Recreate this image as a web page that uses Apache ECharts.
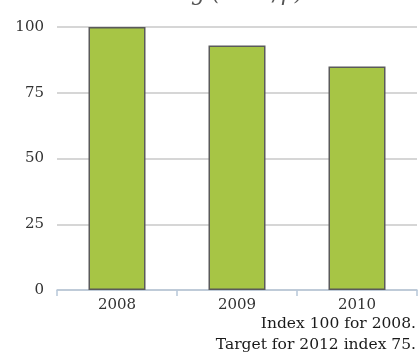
<!DOCTYPE html>
<html>
<head>
<meta charset="utf-8">
<script src="https://cdn.jsdelivr.net/npm/echarts@6/dist/echarts.min.js"></script>
<style>
  html, body { margin: 0; padding: 0; background: #fff; }
  #chart { width: 419px; height: 358px; }
</style>
</head>
<body>
<div id="chart"></div>
<script>
// Yearly index values (2008 = 100)
const years = ['2008', '2009', '2010'];
const indexValues = [100, 93, 85];
const yTicks = [0, 25, 50, 75, 100];
const titleText = 'Heating (tCO\u2082/p)';
const noteLines = ['Index 100 for 2008.', 'Target for 2012 index 75.'];

const serif = '"DejaVu Serif", "Liberation Serif", serif';
const chart = echarts.init(document.getElementById('chart'));

chart.setOption({
  animation: false,
  title: {
    text: titleText,
    left: 'center',
    top: -22,
    textStyle: { fontFamily: serif, fontStyle: 'italic', fontWeight: 'normal', fontSize: 22, color: '#555' }
  },
  graphic: noteLines.map((line, i) => ({
    type: 'text',
    right: 3,
    top: 316 + i * 21,
    style: { text: line, fontFamily: serif, fontSize: 15.5, fill: '#1a1a1a', textAlign: 'right' }
  })),
  grid: { left: 57, right: 2, top: 27, bottom: 68, containLabel: false },
  xAxis: {
    type: 'category',
    data: years,
    axisLine: { lineStyle: { color: '#b8c7d9', width: 1.5 } },
    axisTick: { show: true, length: 6, lineStyle: { color: '#b8c7d9', width: 1.5 } },
    axisLabel: { fontFamily: serif, fontSize: 15, color: '#333', margin: 8 }
  },
  yAxis: {
    type: 'value',
    min: yTicks[0],
    max: yTicks[yTicks.length - 1],
    interval: 25,
    axisLine: { show: false },
    axisTick: { show: false },
    axisLabel: { fontFamily: serif, fontSize: 15, color: '#333', margin: 13 },
    splitLine: { lineStyle: { color: '#c9c9c9', width: 1.5 } }
  },
  series: [{
    type: 'bar',
    data: indexValues,
    barWidth: '47.5%',
    itemStyle: { color: '#a7c545', borderColor: '#5a5a5a', borderWidth: 1.5 }
  }]
});
</script>
</body>
</html>
